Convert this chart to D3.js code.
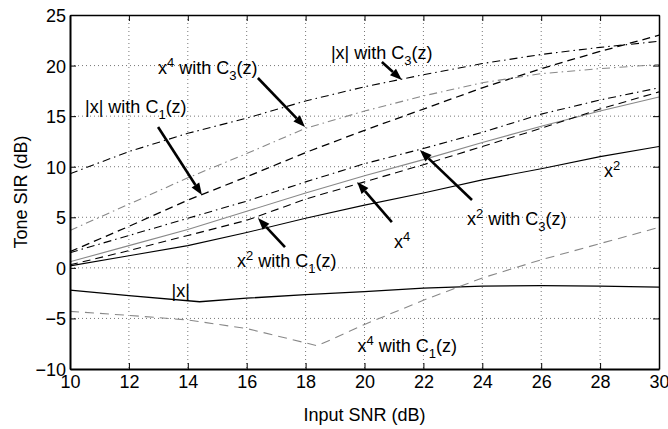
<html>
<head>
<script src="https://d3js.org/d3.v7.min.js"></script>
<style>
  body { margin: 0; background: #fff; }
  text { font-family: "Liberation Sans", Arial, Helvetica, sans-serif; }
</style>
</head>
<body>
<svg id="chart" width="668" height="429"></svg>
<script>
// ---- data ----
const snr = [10, 12, 14, 16, 18, 20, 22, 24, 26, 28, 30];

const absX_snr = [10, 12, 14.4, 16, 18, 20, 22, 24, 26, 28, 30];
const absX = [-2.2, -2.75, -3.35, -3.0, -2.65, -2.35, -2.0, -1.8, -1.75, -1.8, -1.9];

const x4C1_snr = [10, 12, 14, 16, 18.4, 20, 22, 24, 26, 28, 30];
const x4C1 = [-4.3, -4.7, -5.15, -6.0, -7.7, -5.6, -3.2, -1.0, 0.8, 2.4, 4.0];

const x2 = [0.2, 1.2, 2.2, 3.5, 4.9, 6.2, 7.4, 8.7, 9.8, 11.0, 12.0];
const x4 = [0.6, 2.2, 3.8, 5.6, 7.4, 9.1, 10.7, 12.4, 14.0, 15.5, 16.9];
const x2C1 = [0.3, 1.7, 3.2, 4.7, 6.8, 8.5, 10.2, 12.0, 13.8, 15.7, 17.4];
const x2C3 = [1.5, 3.2, 4.9, 6.6, 8.5, 10.3, 11.8, 13.4, 15.2, 16.6, 17.8];
const absXC1 = [1.6, 4.1, 6.7, 9.0, 11.4, 13.6, 15.7, 17.8, 19.7, 21.4, 23.0];
const x4C3 = [3.7, 6.3, 8.9, 11.3, 13.8, 15.5, 17.0, 18.3, 19.2, 19.7, 20.1];
const absXC3 = [9.3, 11.5, 13.3, 14.8, 16.5, 17.9, 19.1, 20.2, 21.1, 21.8, 22.4];

const xTicks = [10, 12, 14, 16, 18, 20, 22, 24, 26, 28, 30];
const yTicks = [-10, -5, 0, 5, 10, 15, 20, 25];

// annotation labels (text, x, y in data units)
const labelText = ["x^4 with C_3(z)", "|x| with C_3(z)", "|x| with C_1(z)", "x^2 with C_1(z)",
                   "|x|", "x^4", "x^2 with C_3(z)", "x^2", "x^4 with C_1(z)"];
const labelX = [12.99, 18.86, 10.51, 15.67, 13.45, 21.0, 23.48, 28.13, 19.76];
const labelY = [19.17, 20.65, 15.31, 0.11, -2.85, 1.93, 4.24, 9.01, -8.29];

// arrows [x0, y0, x1, y1] in data units, head at x1,y1
const arrows = [
  [16.38, 18.77, 17.98, 13.93],
  [12.99, 13.93, 14.48, 7.20],
  [20.59, 20.35, 21.27, 18.57],
  [23.65, 6.71, 21.88, 11.65],
  [20.93, 4.53, 19.75, 8.49],
  [17.30, 2.06, 16.38, 4.93]
];

// ---- drawing ----
const svg = d3.select("svg#chart");
const margin = { top: 15, right: 9, bottom: 60, left: 70 };
const width = +svg.attr("width");
const height = +svg.attr("height");
const plotW = width - margin.left - margin.right;
const plotH = height - margin.top - margin.bottom;

svg.append("rect").attr("width", width).attr("height", height).attr("fill", "#fff");

const x = d3.scaleLinear().domain([10, 30]).range([0, plotW]);
const y = d3.scaleLinear().domain([-10, 25]).range([plotH, 0]);

const g = svg.append("g").attr("transform", "translate(" + margin.left + "," + margin.top + ")");

// grid
g.selectAll("line.vgrid").data(xTicks.slice(1, -1)).join("line")
  .attr("x1", d => x(d)).attr("x2", d => x(d))
  .attr("y1", 0).attr("y2", plotH)
  .attr("stroke", "#777").attr("stroke-width", 1).attr("stroke-dasharray", "1,3");
g.selectAll("line.hgrid").data(yTicks.slice(1, -1)).join("line")
  .attr("x1", 0).attr("x2", plotW)
  .attr("y1", d => y(d)).attr("y2", d => y(d))
  .attr("stroke", "#777").attr("stroke-width", 1).attr("stroke-dasharray", "1,3");

// series
const line = d3.line().x(d => x(d[0])).y(d => y(d[1]));
const zip = (xa, ya) => xa.map((v, i) => [v, ya[i]]);
const dashed = "8,5";
const dashDot = "8,4,1.5,4";
const series = [
  { pts: zip(absX_snr, absX), color: "#000", dash: null, w: 1.3 },
  { pts: zip(x4C1_snr, x4C1), color: "#888", dash: "9,6", w: 1.1 },
  { pts: zip(snr, x2), color: "#000", dash: null, w: 1.1 },
  { pts: zip(snr, x4), color: "#888", dash: null, w: 1.1 },
  { pts: zip(snr, x2C1), color: "#000", dash: dashed, w: 1.1 },
  { pts: zip(snr, x2C3), color: "#000", dash: dashDot, w: 1.1 },
  { pts: zip(snr, absXC1), color: "#000", dash: dashed, w: 1.3 },
  { pts: zip(snr, x4C3), color: "#888", dash: dashDot, w: 1.1 },
  { pts: zip(snr, absXC3), color: "#000", dash: dashDot, w: 1.1 }
];
g.selectAll("path.series").data(series).join("path")
  .attr("class", "series")
  .attr("d", d => line(d.pts))
  .attr("fill", "none")
  .attr("stroke", d => d.color)
  .attr("stroke-width", d => d.w)
  .attr("stroke-dasharray", d => d.dash);

// axes
const fontSize = 18;
const xAxis = g.append("g").attr("transform", "translate(0," + plotH + ")")
  .call(d3.axisBottom(x).tickValues(xTicks).tickSizeInner(-6).tickSizeOuter(0).tickPadding(6));
const yAxis = g.append("g")
  .call(d3.axisLeft(y).tickValues(yTicks).tickSizeInner(-6).tickSizeOuter(0).tickPadding(4)
    .tickFormat(d => d < 0 ? "\u2212" + Math.abs(d) : d));
const xAxisTop = g.append("g")
  .call(d3.axisTop(x).tickValues(xTicks).tickSizeInner(-6).tickSizeOuter(0).tickFormat(""));
const yAxisRight = g.append("g").attr("transform", "translate(" + plotW + ",0)")
  .call(d3.axisRight(y).tickValues(yTicks).tickSizeInner(-6).tickSizeOuter(0).tickFormat(""));
[xAxis, yAxis, xAxisTop, yAxisRight].forEach(a => {
  a.selectAll("text").attr("font-size", fontSize).attr("fill", "#000")
    .style("font-family", "'Liberation Sans', Arial, sans-serif");
  a.selectAll("line").attr("stroke", "#000");
});
xAxis.select(".domain").attr("stroke-width", 2);
yAxis.select(".domain").attr("stroke-width", 2);
xAxisTop.select(".domain").attr("stroke-width", 1.5);
yAxisRight.select(".domain").attr("stroke-width", 1.5);
yAxis.selectAll("text").attr("dy", "0.36em");

// axis titles
svg.append("text")
  .attr("x", margin.left + plotW / 2).attr("y", 421)
  .attr("text-anchor", "middle").attr("font-size", fontSize)
  .text("Input SNR (dB)");
svg.append("text")
  .attr("transform", "translate(27," + (margin.top + plotH / 2) + ") rotate(-90)")
  .attr("text-anchor", "middle").attr("font-size", fontSize)
  .text("Tone SIR (dB)");

// annotation labels with ^ superscript and _ subscript
function richText(sel, str) {
  const re = /([\^_])(.)/g;
  let last = 0, m, shift = 0;
  const add = (t, kind) => {
    const ts = sel.append("tspan").text(t);
    let target = kind === "sup" ? -7 : kind === "sub" ? 6 : 0;
    ts.attr("dy", target - shift);
    shift = target;
    if (kind) ts.attr("font-size", 13);
  };
  while ((m = re.exec(str)) !== null) {
    if (m.index > last) add(str.slice(last, m.index), null);
    add(m[2], m[1] === "^" ? "sup" : "sub");
    last = m.index + 2;
  }
  if (last < str.length) add(str.slice(last), null);
}
labelText.forEach((t, i) => {
  const txt = g.append("text")
    .attr("x", x(labelX[i])).attr("y", y(labelY[i]))
    .attr("font-size", fontSize).attr("fill", "#000");
  richText(txt, t);
});

// arrows
const headLen = 12, headHalf = 4.5;
arrows.forEach(a => {
  const x0 = x(a[0]), y0 = y(a[1]), x1 = x(a[2]), y1 = y(a[3]);
  const ang = Math.atan2(y1 - y0, x1 - x0);
  const bx = x1 - headLen * Math.cos(ang), by = y1 - headLen * Math.sin(ang);
  g.append("line").attr("x1", x0).attr("y1", y0).attr("x2", bx).attr("y2", by)
    .attr("stroke", "#000").attr("stroke-width", 2.6);
  const px = -Math.sin(ang) * headHalf, py = Math.cos(ang) * headHalf;
  g.append("path")
    .attr("d", "M" + x1 + "," + y1 + "L" + (bx + px) + "," + (by + py) + "L" + (bx - px) + "," + (by - py) + "Z")
    .attr("fill", "#000");
});
</script>
</body>
</html>
